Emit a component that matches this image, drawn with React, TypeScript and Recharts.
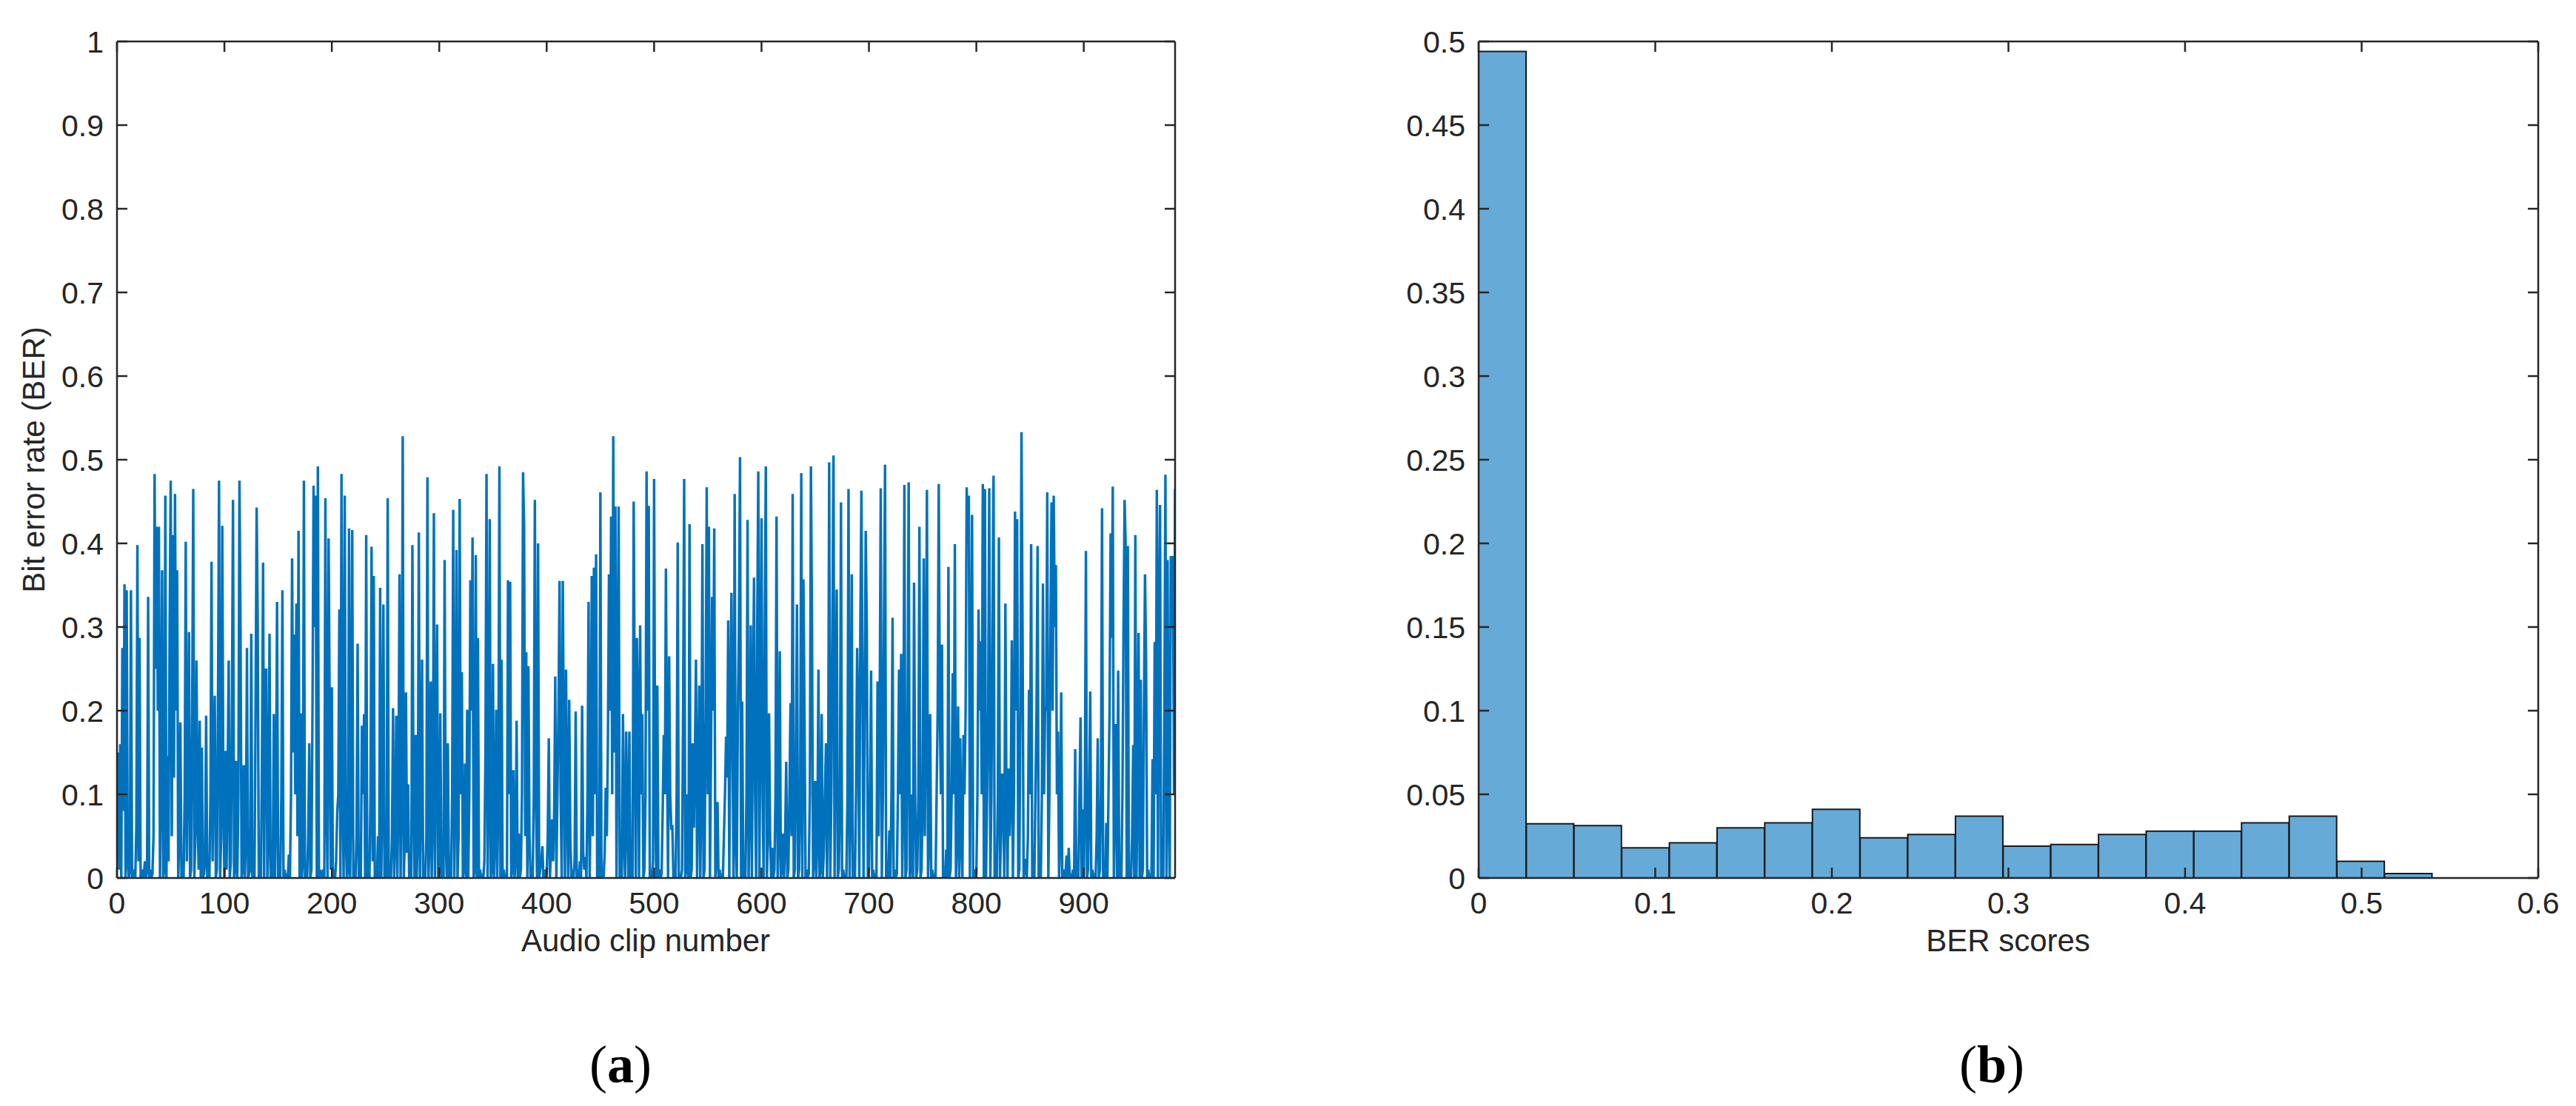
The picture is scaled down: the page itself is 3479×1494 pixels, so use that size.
import React from 'react';
import { LineChart, Line, XAxis, YAxis, BarChart, Bar } from 'recharts';

const INK = '#262626';
const FONT = '"Liberation Sans", Arial, Helvetica, sans-serif';
const LINE_BLUE = '#0072BD';
const HIST_FILL = '#66AAD7';
const TICK = 14;
const TICK_FS = 41;

// ---- Panel (a): BER per audio clip ----
const clipTicks = [0, 100, 200, 300, 400, 500, 600, 700, 800, 900];
const berTicks = [0, 0.1, 0.2, 0.3, 0.4, 0.5, 0.6, 0.7, 0.8, 0.9, 1];

const berSeg1 = [
  0.15, 0.01, 0.16, 0, 0.275, 0.08, 0.351, 0, 0.344, 0.02,
  0, 0.01, 0.344, 0, 0.005, 0.01, 0, 0.06, 0.398, 0.02,
  0.287, 0, 0.01, 0, 0.005, 0.02, 0, 0.01, 0.336, 0,
  0.01, 0, 0.005, 0.05, 0.483, 0.25, 0.42, 0.2, 0.42, 0,
  0.12, 0.368, 0, 0.01, 0.457, 0, 0.146, 0.02, 0.3, 0.475,
  0.05, 0.41, 0.12, 0.459, 0.2, 0.368, 0, 0.05, 0.186, 0,
  0.01, 0, 0.1, 0.402, 0.02, 0.15, 0.294, 0, 0.01, 0.2,
  0.465, 0, 0.05, 0.26, 0.08, 0.01, 0.188, 0, 0.156, 0,
  0.005, 0.02, 0.194, 0, 0.01, 0, 0.1, 0.378, 0.02, 0.15,
  0.218, 0, 0.01, 0.2, 0.475, 0, 0.05, 0.421, 0.1, 0,
];
const berSeg2 = [
  0.152, 0.01, 0.12, 0.26, 0, 0.02, 0.2, 0.452, 0, 0.01,
  0.14, 0, 0.1, 0.475, 0.3, 0, 0.01, 0.135, 0, 0.05,
  0.275, 0, 0.005, 0.01, 0.292, 0, 0.01, 0, 0.2, 0.443,
  0.306, 0, 0.01, 0, 0.15, 0.377, 0, 0.249, 0.249, 0,
  0.05, 0.292, 0, 0.01, 0, 0.196, 0, 0.08, 0.33, 0,
  0.01, 0, 0.1, 0.344, 0, 0.01, 0, 0.005, 0, 0.028,
  0, 0.1, 0.382, 0.15, 0.291, 0.1, 0.328, 0.05, 0.415, 0,
  0.197, 0, 0.02, 0.475, 0, 0.01, 0, 0.05, 0.161, 0,
  0.01, 0.2, 0.469, 0.3, 0.457, 0, 0.492, 0, 0.01, 0,
  0.005, 0.01, 0, 0.454, 0.1, 0, 0.406, 0.2, 0.01, 0.228,
];
const berSeg3 = [
  0, 0.01, 0, 0.02, 0.078, 0.1, 0.321, 0, 0.483, 0.1,
  0, 0.457, 0.05, 0, 0.01, 0.418, 0, 0.1, 0.416, 0,
  0.01, 0, 0.05, 0.28, 0, 0.01, 0, 0.182, 0.1, 0.196,
  0, 0.41, 0, 0.01, 0, 0.1, 0.396, 0.02, 0.361, 0,
  0.01, 0, 0.05, 0, 0.347, 0, 0.1, 0.327, 0, 0.01,
  0, 0.454, 0, 0.01, 0, 0.05, 0.203, 0, 0.05, 0.194,
  0, 0.1, 0.363, 0, 0.1, 0.528, 0, 0.05, 0.222, 0.03,
  0.112, 0, 0.01, 0, 0.398, 0.1, 0, 0.171, 0, 0.05,
  0.413, 0, 0.1, 0.261, 0, 0.01, 0, 0.05, 0.479, 0,
  0.05, 0.235, 0, 0.08, 0.436, 0, 0.15, 0.303, 0, 0.01,
];
const berSeg4 = [
  0.197, 0, 0.01, 0, 0.38, 0.05, 0, 0.161, 0, 0.01,
  0, 0.1, 0.44, 0, 0.1, 0.392, 0, 0.05, 0.453, 0.1,
  0.246, 0, 0.01, 0.137, 0, 0.201, 0, 0.1, 0.356, 0.2,
  0.407, 0, 0.01, 0.386, 0, 0.287, 0, 0.01, 0, 0.005,
  0, 0.02, 0.15, 0.483, 0, 0.1, 0.429, 0, 0.01, 0.256,
  0, 0.05, 0.201, 0, 0.1, 0.492, 0, 0.261, 0, 0.01,
  0, 0.005, 0, 0.356, 0.1, 0.354, 0, 0.01, 0.129, 0,
  0.02, 0.188, 0, 0.053, 0, 0.01, 0.1, 0.485, 0.42, 0.05,
  0.27, 0, 0.253, 0.05, 0, 0.01, 0, 0.1, 0.452, 0.1,
  0, 0.4, 0, 0.01, 0.02, 0.038, 0, 0.01, 0, 0.005,
];
const berSeg5 = [
  0.05, 0.167, 0, 0.03, 0.07, 0.02, 0.08, 0.241, 0, 0.1,
  0.2, 0.355, 0.1, 0, 0.355, 0.15, 0, 0.249, 0.1, 0,
  0.213, 0.05, 0, 0.01, 0, 0.02, 0.199, 0, 0.01, 0,
  0.02, 0, 0.206, 0.03, 0.01, 0.025, 0, 0.1, 0.33, 0,
  0.1, 0.361, 0.05, 0.371, 0.1, 0.387, 0, 0.01, 0, 0.461,
  0, 0.01, 0, 0.03, 0.108, 0.05, 0.163, 0.363, 0.2, 0.432,
  0.1, 0.528, 0.15, 0.444, 0, 0.2, 0.444, 0, 0.01, 0,
  0.196, 0.05, 0, 0.175, 0.08, 0, 0.175, 0, 0.01, 0,
  0.45, 0.2, 0, 0.287, 0.2, 0, 0.302, 0.1, 0.196, 0,
  0.01, 0.1, 0.486, 0.2, 0.445, 0, 0.01, 0, 0.02, 0.477,
];
const berSeg6 = [
  0.1, 0, 0.23, 0, 0.01, 0, 0.005, 0.08, 0.171, 0.1,
  0.37, 0.15, 0, 0.265, 0.1, 0.06, 0.061, 0, 0.01, 0,
  0.1, 0.401, 0, 0.005, 0, 0.01, 0.2, 0.477, 0, 0.01,
  0.1, 0, 0.423, 0, 0.01, 0.161, 0.06, 0.15, 0.261, 0,
  0.1, 0.23, 0, 0.1, 0.399, 0, 0.01, 0.2, 0.467, 0.1,
  0.42, 0, 0.15, 0.336, 0.2, 0.418, 0, 0.02, 0.091, 0,
  0.01, 0, 0.005, 0, 0.05, 0.1, 0.169, 0.12, 0.308, 0,
  0.2, 0.341, 0.15, 0, 0.459, 0.05, 0, 0.2, 0.3, 0.503,
  0, 0.211, 0, 0.01, 0, 0.1, 0.428, 0, 0.1, 0.302,
  0, 0.2, 0.359, 0.1, 0, 0.3, 0.486, 0, 0.2, 0.43,
];
const berSeg7 = [
  0.1, 0, 0.3, 0.492, 0, 0.05, 0.197, 0.05, 0, 0.036,
  0, 0.01, 0.1, 0.432, 0, 0.05, 0.271, 0, 0.01, 0.053,
  0, 0.05, 0.139, 0, 0.01, 0.1, 0.209, 0.05, 0.459, 0,
  0.01, 0.15, 0.327, 0, 0.01, 0.1, 0.484, 0, 0.357, 0.2,
  0, 0.01, 0, 0.005, 0.1, 0.492, 0.3, 0, 0.02, 0.116,
  0, 0.05, 0.249, 0, 0.01, 0.196, 0, 0.03, 0.1, 0.161,
  0, 0.1, 0.497, 0, 0.1, 0.3, 0.505, 0, 0.2, 0.345,
  0, 0.01, 0.1, 0.449, 0, 0.01, 0, 0.005, 0, 0.1,
  0.465, 0, 0.1, 0.363, 0, 0.01, 0, 0.1, 0.275, 0.2,
  0, 0.3, 0.463, 0.228, 0, 0.2, 0.415, 0.3, 0, 0.01,
];
const berSeg8 = [
  0.1, 0.248, 0, 0.01, 0, 0.005, 0, 0.235, 0.05, 0.2,
  0.466, 0, 0.1, 0.3, 0.494, 0, 0.01, 0, 0.057, 0,
  0.1, 0.311, 0, 0.01, 0, 0.005, 0.1, 0.249, 0.1, 0.268,
  0, 0.1, 0.47, 0, 0.01, 0.2, 0.473, 0, 0.01, 0.1,
  0, 0.353, 0.1, 0, 0.01, 0.1, 0.42, 0, 0.01, 0.1,
  0.382, 0.05, 0.2, 0.464, 0, 0.05, 0.196, 0, 0.01, 0,
  0.005, 0, 0.1, 0.2, 0.471, 0.2, 0.1, 0.279, 0, 0.01,
  0, 0.034, 0, 0.372, 0, 0.01, 0.1, 0.245, 0.1, 0.399,
  0, 0.05, 0.205, 0, 0.167, 0.05, 0, 0.171, 0.1, 0.2,
  0.467, 0.4, 0.457, 0, 0.2, 0.434, 0, 0.01, 0, 0.005,
];
const berSeg9 = [
  0.1, 0.321, 0.2, 0.283, 0.1, 0.471, 0, 0.465, 0, 0.1,
  0.2, 0.466, 0, 0.1, 0.3, 0.481, 0, 0.01, 0, 0.1,
  0.407, 0, 0.05, 0.125, 0.1, 0, 0.328, 0.1, 0, 0.131,
  0.05, 0.1, 0.284, 0, 0.1, 0.438, 0.2, 0.429, 0, 0.01,
  0.2, 0.533, 0.3, 0, 0.01, 0.023, 0, 0.05, 0.225, 0.1,
  0.399, 0, 0.01, 0, 0.1, 0.2, 0.397, 0, 0.023, 0,
  0.1, 0.352, 0.1, 0.205, 0.2, 0.461, 0, 0.1, 0.3, 0.449,
  0.2, 0.457, 0.3, 0.374, 0.1, 0.175, 0, 0.05, 0.222, 0,
  0.01, 0, 0.005, 0.027, 0, 0.036, 0, 0.005, 0, 0.01,
  0, 0.154, 0, 0.01, 0, 0.1, 0.192, 0, 0.082, 0,
];
const berSeg10 = [
  0.1, 0.391, 0, 0.01, 0.1, 0.223, 0, 0.01, 0, 0.005,
  0, 0.05, 0.167, 0, 0.01, 0.1, 0.442, 0, 0.01, 0,
  0.066, 0, 0.1, 0.2, 0.412, 0.287, 0.468, 0, 0.1, 0.184,
  0, 0.248, 0, 0.01, 0, 0.1, 0.3, 0.452, 0.397, 0,
  0.397, 0, 0.01, 0, 0.05, 0.159, 0, 0.41, 0, 0.1,
  0.293, 0, 0.237, 0, 0.01, 0.2, 0.363, 0.261, 0, 0.01,
  0, 0.005, 0, 0.142, 0, 0.282, 0.1, 0.464, 0, 0.3,
  0.446, 0, 0.04, 0, 0.2, 0.482, 0, 0.38, 0.1, 0,
  0.385, 0.3, 0.385, 0.1, 0.465,
];

const berValues = [
  ...berSeg1, ...berSeg2, ...berSeg3, ...berSeg4, ...berSeg5,
  ...berSeg6, ...berSeg7, ...berSeg8, ...berSeg9, ...berSeg10,
];
const lineData = berValues.map((v, i) => ({ clip: i + 1, ber: v }));
const clipMax = 985;

// ---- Panel (b): histogram of BER scores (probability) ----
const binCenters = [
  0.0135, 0.0405, 0.0675, 0.0945, 0.1215, 0.1485, 0.1755, 0.2025, 0.2295, 0.2565,
  0.2835, 0.3105, 0.3375, 0.3645, 0.3915, 0.4185, 0.4455, 0.4725, 0.4995, 0.5265,
];
const binProb = [
  0.494, 0.0324, 0.0313, 0.018, 0.021, 0.03, 0.033, 0.041, 0.024, 0.026,
  0.037, 0.019, 0.02, 0.026, 0.028, 0.028, 0.033, 0.037, 0.01, 0.0026,
];
const histXTicks = [0, 0.1, 0.2, 0.3, 0.4, 0.5, 0.6];
const histYTicks = [0, 0.05, 0.1, 0.15, 0.2, 0.25, 0.3, 0.35, 0.4, 0.45, 0.5];
const histData = binCenters.map((c, i) => ({ center: c, prob: binProb[i] }));

// ---- Tick renderers (MATLAB-style inward ticks) ----
const tickText = { fontFamily: FONT, fontSize: TICK_FS, fill: INK };

const BottomTick = (p: any) => (
  <g>
    <line x1={p.x} y1={p.y} x2={p.x} y2={p.y - TICK} stroke={INK} strokeWidth={2.5} />
    <text x={p.x} y={p.y + 48} textAnchor="middle" {...tickText}>
      {String(p.payload.value)}
    </text>
  </g>
);
const TopTick = (p: any) => (
  <line x1={p.x} y1={p.y} x2={p.x} y2={p.y + TICK} stroke={INK} strokeWidth={2.5} />
);
const LeftTick = (p: any) => (
  <g>
    <line x1={p.x} y1={p.y} x2={p.x + TICK} y2={p.y} stroke={INK} strokeWidth={2.5} />
    <text x={p.x - 18} y={p.y + 15} textAnchor="end" {...tickText}>
      {String(p.payload.value)}
    </text>
  </g>
);
const RightTick = (p: any) => (
  <line x1={p.x} y1={p.y} x2={p.x - TICK} y2={p.y} stroke={INK} strokeWidth={2.5} />
);

const axisLine = { stroke: INK, strokeWidth: 2.5 };

const CHART_W = 1700;
const CHART_H = 1300;
const MARGIN = { top: 55, right: 112, bottom: 0, left: 0 };

function PanelA() {
  return (
    <LineChart width={CHART_W} height={CHART_H} data={lineData} margin={MARGIN}>
      <XAxis
        xAxisId="bottom"
        dataKey="clip"
        type="number"
        domain={[0, clipMax]}
        ticks={clipTicks}
        interval={0}
        height={114}
        tickSize={0}
        tickMargin={0}
        tickLine={false}
        axisLine={axisLine}
        tick={BottomTick}
        allowDataOverflow
      />
      <XAxis
        xAxisId="top"
        orientation="top"
        dataKey="clip"
        type="number"
        domain={[0, clipMax]}
        ticks={clipTicks}
        interval={0}
        height={1}
        tickSize={0}
        tickMargin={0}
        tickLine={false}
        axisLine={axisLine}
        tick={TopTick}
        allowDataOverflow
      />
      <YAxis
        yAxisId="left"
        type="number"
        domain={[0, 1]}
        ticks={berTicks}
        interval={0}
        width={158}
        tickSize={0}
        tickMargin={0}
        tickLine={false}
        axisLine={axisLine}
        tick={LeftTick}
        allowDataOverflow
      />
      <YAxis
        yAxisId="right"
        orientation="right"
        type="number"
        domain={[0, 1]}
        ticks={berTicks}
        interval={0}
        width={1}
        tickSize={0}
        tickMargin={0}
        tickLine={false}
        axisLine={axisLine}
        tick={RightTick}
        allowDataOverflow
      />
      <Line
        xAxisId="bottom"
        yAxisId="left"
        type="linear"
        dataKey="ber"
        stroke={LINE_BLUE}
        strokeWidth={3.4}
        dot={false}
        activeDot={false}
        isAnimationActive={false}
      />
    </LineChart>
  );
}

function PanelB() {
  return (
    <BarChart
      width={CHART_W + 2}
      height={CHART_H}
      data={histData}
      margin={MARGIN}
      barCategoryGap={0}
      barGap={0}
    >
      <XAxis
        xAxisId="bottom"
        dataKey="center"
        type="number"
        domain={[0, 0.6]}
        ticks={histXTicks}
        interval={0}
        height={114}
        tickSize={0}
        tickMargin={0}
        tickLine={false}
        axisLine={axisLine}
        tick={BottomTick}
        allowDataOverflow
      />
      <XAxis
        xAxisId="top"
        orientation="top"
        dataKey="center"
        type="number"
        domain={[0, 0.6]}
        ticks={histXTicks}
        interval={0}
        height={1}
        tickSize={0}
        tickMargin={0}
        tickLine={false}
        axisLine={axisLine}
        tick={TopTick}
        allowDataOverflow
      />
      <YAxis
        yAxisId="left"
        type="number"
        domain={[0, 0.5]}
        ticks={histYTicks}
        interval={0}
        width={158}
        tickSize={0}
        tickMargin={0}
        tickLine={false}
        axisLine={axisLine}
        tick={LeftTick}
        allowDataOverflow
      />
      <YAxis
        yAxisId="right"
        orientation="right"
        type="number"
        domain={[0, 0.5]}
        ticks={histYTicks}
        interval={0}
        width={1}
        tickSize={0}
        tickMargin={0}
        tickLine={false}
        axisLine={axisLine}
        tick={RightTick}
        allowDataOverflow
      />
      <Bar
        xAxisId="bottom"
        yAxisId="left"
        dataKey="prob"
        fill={HIST_FILL}
        stroke="#1a1a1a"
        strokeWidth={2}
        isAnimationActive={false}
      />
    </BarChart>
  );
}

export default function App() {
  return (
    <div
      style={{
        position: 'absolute',
        left: 0,
        top: 0,
        width: 3479,
        height: 1494,
        background: '#ffffff',
        overflow: 'hidden',
        fontFamily: FONT,
      }}
    >
      <div style={{ position: 'absolute', left: 0, top: 0 }}>
        <PanelA />
      </div>
      <div style={{ position: 'absolute', left: 1839, top: 0 }}>
        <PanelB />
      </div>
      <svg
        width={3479}
        height={1494}
        style={{ position: 'absolute', left: 0, top: 0, pointerEvents: 'none' }}
      >
        <text
          x={45}
          y={621}
          transform="rotate(-90 45 621)"
          textAnchor="middle"
          dominantBaseline="central"
          fontFamily={FONT}
          fontSize={42}
          fill={INK}
        >
          Bit error rate (BER)
        </text>
        <text x={872} y={1285} textAnchor="middle" fontFamily={FONT} fontSize={42} fill={INK}>
          Audio clip number
        </text>
        <text x={2712} y={1285} textAnchor="middle" fontFamily={FONT} fontSize={42} fill={INK}>
          BER scores
        </text>
        <text
          x={838}
          y={1462}
          textAnchor="middle"
          fontFamily='"Liberation Serif", "DejaVu Serif", serif'
          fontSize={72}
          fill="#000"
        >
          (<tspan fontWeight="bold">a</tspan>)
        </text>
        <text
          x={2690}
          y={1462}
          textAnchor="middle"
          fontFamily='"Liberation Serif", "DejaVu Serif", serif'
          fontSize={72}
          fill="#000"
        >
          (<tspan fontWeight="bold">b</tspan>)
        </text>
      </svg>
    </div>
  );
}
